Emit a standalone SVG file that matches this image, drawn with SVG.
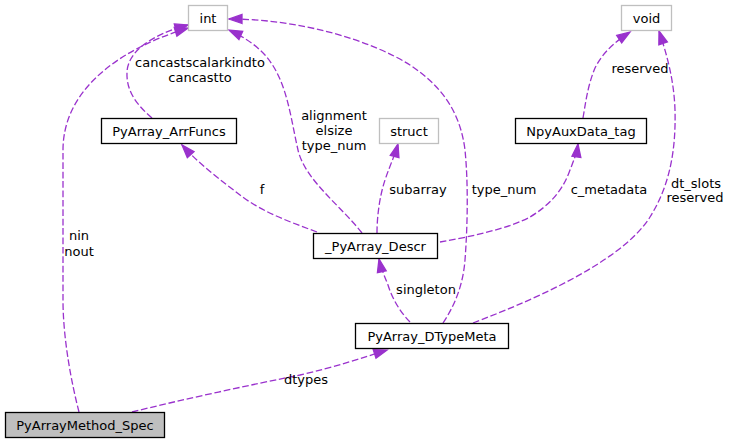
<svg xmlns="http://www.w3.org/2000/svg" width="729" height="444" viewBox="0 0 729 444">
<style>
text{font-family:"DejaVu Sans",sans-serif;font-size:13px;fill:#000;text-anchor:middle}
.n rect{fill:#fff;stroke:#000;stroke-width:1.3}
.x rect{fill:#fff;stroke:#bfbfbf;stroke-width:1.3}
.e path{fill:none;stroke:#9a32cd;stroke-width:1.3;stroke-dasharray:6.7,2.7;marker-end:url(#a)}
</style>
<defs>
<marker id="a" markerUnits="userSpaceOnUse" markerWidth="14" markerHeight="10" refX="13" refY="4.5" orient="auto" overflow="visible">
<path d="M0,0 L13,4.5 L0,9 z" fill="#9a32cd" stroke="#9a32cd" stroke-width="1.3"/>
</marker>
</defs>
<rect width="729" height="444" fill="#fff"/>
<g id="edges" class="e">
<path d="M152,118 C138,106 126,92 127,72 C128,52 150,35 188,25"/>
<path d="M79,412 C72,385 63,340 63,300 L63,150 C63,95 110,52 188,28"/>
<path d="M362,233 C340,205 305,180 298,150 C290,115 287,80 265,55 C255,44 242,36 229,30"/>
<path d="M443,323 C455,305 463,285 465,260 C468,220 468,180 465,150 C460,110 440,85 410,65 C370,40 300,19 229,19"/>
<path d="M317,232 C290,222 262,212 240,195 C222,181 200,165 182,145"/>
<path d="M377,233 C377,215 380,195 385,180 C390,165 395,155 398,144"/>
<path d="M440,242 C470,237 510,228 530,217 C550,205 563,190 570,170 C574,160 577,152 578,144"/>
<path d="M583,118 C586,100 588,85 595,68 C603,52 615,42 630,32"/>
<path d="M473,323 C520,305 620,265 650,217 C670,185 676,150 675,110 C674,80 667,55 659,31"/>
<path d="M410,322 C400,312 392,298 388,285 C384,275 381,268 379,259"/>
<path d="M132,412 C180,400 250,385 300,375 C335,367 362,358 387,350"/>
</g>
<g id="labels">
<text x="200" y="67">cancastscalarkindto</text>
<text x="200" y="82">cancastto</text>
<text x="79" y="240">nin</text>
<text x="79" y="256">nout</text>
<text x="334" y="120">alignment</text>
<text x="334" y="135">elsize</text>
<text x="334" y="150">type_num</text>
<text x="504" y="194">type_num</text>
<text x="262" y="194">f</text>
<text x="418" y="194">subarray</text>
<text x="609" y="194">c_metadata</text>
<text x="640" y="73">reserved</text>
<text x="696" y="188">dt_slots</text>
<text x="695" y="202">reserved</text>
<text x="426" y="294">singleton</text>
<text x="306" y="384">dtypes</text>
</g>
<g id="int" class="x"><rect x="188.5" y="5.5" width="39" height="25"/><text x="208" y="22.5">int</text></g>
<g id="void" class="x"><rect x="621.5" y="5.5" width="50" height="25"/><text x="646.5" y="22.5">void</text></g>
<g id="struct" class="x"><rect x="379.5" y="118.5" width="59" height="25"/><text x="409" y="135.5">struct</text></g>
<g id="PyArray_ArrFuncs" class="n"><rect x="101.5" y="118.5" width="135" height="25"/><text x="169" y="135.5">PyArray_ArrFuncs</text></g>
<g id="NpyAuxData_tag" class="n"><rect x="515.5" y="118.5" width="131" height="25"/><text x="581" y="135.5">NpyAuxData_tag</text></g>
<g id="_PyArray_Descr" class="n"><rect x="313.5" y="233.5" width="124" height="25"/><text x="375.5" y="250.5">_PyArray_Descr</text></g>
<g id="PyArray_DTypeMeta" class="n"><rect x="355.5" y="323.5" width="153" height="25"/><text x="432" y="340.5">PyArray_DTypeMeta</text></g>
<g id="PyArrayMethod_Spec" class="n"><rect x="5.5" y="412.5" width="159" height="25" style="fill:#bfbfbf"/><text x="85" y="429.5">PyArrayMethod_Spec</text></g>
</svg>
